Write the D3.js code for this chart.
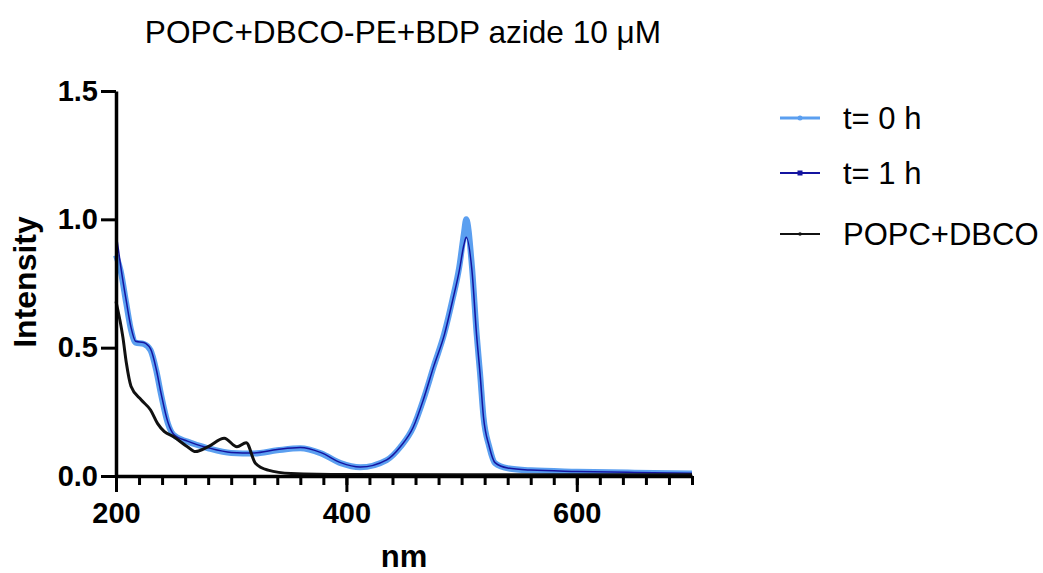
<!DOCTYPE html>
<html>
<head>
<meta charset="utf-8">
<script src="https://cdn.jsdelivr.net/npm/d3@7"></script>
<style>
  body { margin: 0; background: #fff; }
  svg text { font-family: "Liberation Sans", Arial, sans-serif; }
</style>
</head>
<body>
<div id="chart"></div>
<script>
// longitudes de onda (nm)
const wlBlue = [200, 204, 209, 213, 217, 224, 230, 235, 239, 245, 250, 262, 280, 300, 320, 340, 360, 378, 395, 412, 435, 447, 458, 467, 476, 485, 492, 498, 502, 504, 509, 513, 516, 519, 524, 529, 540, 560, 600, 650, 700];
const t0 = [0.86, 0.80, 0.67, 0.57, 0.52, 0.515, 0.49, 0.41, 0.32, 0.205, 0.16, 0.134, 0.108, 0.09, 0.088, 0.10, 0.108, 0.088, 0.05, 0.034, 0.062, 0.114, 0.19, 0.30, 0.43, 0.556, 0.686, 0.815, 0.945, 1.0, 0.815, 0.556, 0.40, 0.23, 0.114, 0.05, 0.03, 0.022, 0.017, 0.013, 0.01];
const t1 = [0.95, 0.82, 0.68, 0.58, 0.525, 0.52, 0.495, 0.415, 0.325, 0.21, 0.163, 0.136, 0.11, 0.092, 0.09, 0.103, 0.111, 0.091, 0.052, 0.035, 0.063, 0.115, 0.19, 0.30, 0.43, 0.55, 0.68, 0.80, 0.90, 0.93, 0.80, 0.55, 0.40, 0.23, 0.115, 0.052, 0.031, 0.023, 0.018, 0.014, 0.011];

const wlBlack = [200, 206, 209, 213, 222, 230, 236, 242, 250, 262, 269, 280, 294, 305, 313, 321, 332, 352, 400, 500, 600, 700];
const popc = [0.68, 0.54, 0.44, 0.35, 0.296, 0.257, 0.205, 0.173, 0.153, 0.114, 0.095, 0.114, 0.147, 0.114, 0.13, 0.05, 0.023, 0.01, 0.006, 0.005, 0.005, 0.005];

const seriesNames = ["t= 0 h", "t= 1 h", "POPC+DBCO"];
const yTicks = [0, 0.5, 1.0, 1.5];
const xTicks = [200, 400, 600];

const W = 1043, H = 573;
const margin = { top: 91, right: 351, bottom: 97, left: 116 };
const width = W - margin.left - margin.right;
const height = H - margin.top - margin.bottom;

const svg = d3.select("#chart").append("svg")
    .attr("width", W)
    .attr("height", H);

const g = svg.append("g")
    .attr("transform", `translate(${margin.left},${margin.top})`);

const x = d3.scaleLinear().domain([200, 700]).range([0, width]);
const y = d3.scaleLinear().domain([0, 1.5]).range([height, 0]);

// Título
svg.append("text")
    .attr("x", margin.left + width / 2 - 1)
    .attr("y", 43)
    .attr("text-anchor", "middle")
    .attr("font-size", 31.6)
    .text("POPC+DBCO-PE+BDP azide 10 μM");

// Curvas
const line = d3.line()
    .x(d => x(d[0]))
    .y(d => y(d[1]))
    .curve(d3.curveMonotoneX);

const series = [
    { name: seriesNames[0], data: d3.zip(wlBlue, t0), color: "#5b9ff0", width: 6 },
    { name: seriesNames[1], data: d3.zip(wlBlue, t1), color: "#1414a0", width: 1.5 },
    { name: seriesNames[2], data: d3.zip(wlBlack, popc), color: "#111", width: 3 }
];

g.selectAll(".serie")
    .data(series)
    .enter()
    .append("path")
    .attr("class", "serie")
    .attr("fill", "none")
    .attr("stroke", d => d.color)
    .attr("stroke-width", d => d.width)
    .attr("stroke-linejoin", "round")
    .attr("d", d => line(d.data));

// Eje X: ticks menores y mayores
const xMinor = g.append("g")
    .attr("transform", `translate(0,${height})`)
    .call(d3.axisBottom(x).tickValues(d3.range(200, 701, 20)).tickSize(9).tickFormat(""));
xMinor.select(".domain").remove();

const xAxis = g.append("g")
    .attr("transform", `translate(0,${height})`)
    .call(d3.axisBottom(x).tickValues(xTicks).tickSize(16).tickSizeOuter(0).tickPadding(10));

const yAxis = g.append("g")
    .call(d3.axisLeft(y).tickValues(yTicks).tickSize(15).tickSizeOuter(0).tickPadding(3).tickFormat(d3.format(".1f")));

[xMinor, xAxis, yAxis].forEach(ax => {
    ax.selectAll("line").attr("stroke", "#000").attr("stroke-width", 3);
    ax.select(".domain").attr("stroke", "#000").attr("stroke-width", 3.5);
    ax.selectAll("text")
        .attr("font-size", 29)
        .attr("font-weight", "bold")
        .attr("fill", "#000")
        .style("font-family", '"Liberation Sans", Arial, sans-serif');
});

// Títulos de ejes
svg.append("text")
    .attr("x", margin.left + width / 2)
    .attr("y", 567)
    .attr("text-anchor", "middle")
    .attr("font-size", 31)
    .attr("font-weight", "bold")
    .text("nm");

svg.append("text")
    .attr("transform", `translate(36,282) rotate(-90)`)
    .attr("text-anchor", "middle")
    .attr("font-size", 32)
    .attr("font-weight", "bold")
    .text("Intensity");

// Leyenda
const legendY = [118, 173, 234];
const legend = svg.append("g");
series.forEach((s, i) => {
    const row = legend.append("g").attr("transform", `translate(780,${legendY[i]})`);
    row.append("line")
        .attr("x1", 0).attr("x2", 40)
        .attr("stroke", s.color)
        .attr("stroke-width", i === 0 ? 3 : 2);
    if (i === 0) {
        row.append("circle").attr("cx", 20).attr("r", 2.5).attr("fill", s.color);
    } else if (i === 1) {
        row.append("rect").attr("x", 17.5).attr("y", -2.5).attr("width", 5).attr("height", 5).attr("fill", s.color);
    } else {
        row.append("circle").attr("cx", 20).attr("r", 1.8).attr("fill", s.color);
    }
    row.append("text")
        .attr("x", 63)
        .attr("dy", "0.36em")
        .attr("font-size", 31)
        .text(s.name);
});
</script>
</body>
</html>
